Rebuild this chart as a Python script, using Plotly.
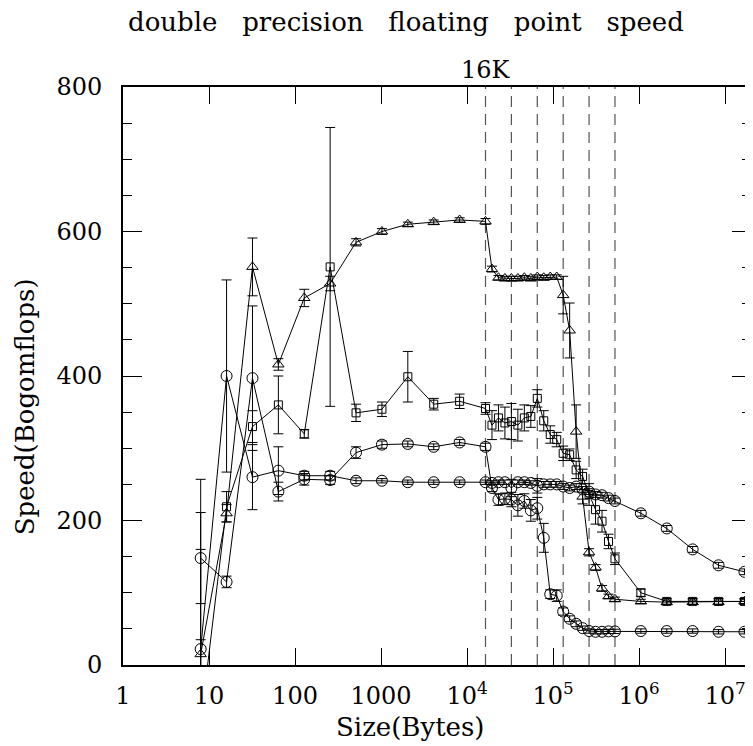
import math
import plotly.graph_objects as go

# ---- data ----
sizes = [8, 16, 32, 64, 128, 256, 512, 1024, 2048, 4096, 8192,
         16384, 19484, 23170, 27554, 32768, 38968, 46341, 55109,
         65536, 77936, 92682, 110218, 131072, 155872, 185364, 220436,
         262144, 311744, 370728, 440872, 524288,
         1048576, 2097152, 4194304, 8388608, 16777216]

tri = [15, 210, 551, 416, 508, 528, 585, 600, 610, 613, 616,
       614, 548, 536, 535, 535, 535, 536, 535, 537, 536, 537, 537,
       512, 463, 323, 233, 156, 135, 106, 95, 91,
       88, 87, 87, 87, 88]
tri_err = [20, 12, 40, 8, 12, 10, 5, 4, 3, 3, 3,
           4, 4, 3, 3, 3, 3, 3, 3, 3, 3, 3, 3,
           26, 38, 37, 10, 5, 4, 4, 3, 3,
           3, 3, 3, 3, 3]

sq = [-80, 219, 330, 360, 320, 551, 349, 354, 399, 361, 365,
      355, 332, 342, 335, 337, 332, 342, 344, 369, 338, 319, 312,
      293, 291, 270, 261, 236, 215, 199, 171, 147,
      100, 88, 88, 88, 88]
sq_err = [240, 21, 22, 40, 6, 193, 12, 10, 35, 8, 10,
          8, 20, 18, 22, 25, 22, 18, 15, 12, 14, 12, 10,
          10, 8, 12, 10, 15, 20, 15, 10, 8,
          5, 4, 4, 4, 4]

circ_a = [148, 115, 397, 240, 257, 256, 294, 305, 306, 302, 308,
          302, 245, 229, 230, 229, 221, 227, 214, 217, 176, 98, 96,
          74, 64, 57, 51, 47, 46, 46, 46.5, 46.5,
          47, 47, 47, 46, 46]
circ_a_err = [63, 8, 100, 13, 8, 6, 8, 5, 4, 4, 4,
              5, 5, 8, 8, 10, 15, 10, 15, 15, 20, 6, 8,
              5, 4, 4, 3, 3, 3, 3, 3, 3,
              3, 3, 3, 3, 3]

circ_b = [22, 400, 260, 269, 262, 262, 255, 255, 253, 253, 253,
          253, 252, 253, 253, 245, 253, 253, 252, 248, 250, 250, 250,
          247, 245, 247, 243, 240, 236, 235, 231, 227,
          210, 189, 160, 138, 129]
circ_b_err = [235, 133, 45, 33, 6, 6, 4, 3, 3, 3, 3,
              3, 3, 3, 3, 12, 3, 3, 3, 10, 4, 4, 4,
              4, 4, 4, 4, 4, 4, 4, 4, 4,
              4, 4, 4, 4, 4]

cache_lines = [16384, 32768, 65536, 131072, 262144, 524288]

tick_vals = [1, 10, 100, 1000, 1e4, 1e5, 1e6, 1e7]
tick_text = ["1", "10", "100", "1000", "10<sup>4</sup>", "10<sup>5</sup>",
             "10<sup>6</sup>", "10<sup>7</sup>"]
y_ticks = [0, 200, 400, 600, 800]

FONT = "DejaVu Serif"

# page body has an 8px margin; compensate so the plot frame lands where the reference has it
OFF = 8
L, T, B = 123 - OFF, 87 - OFF, 746 - (665 - OFF)
PW, PH = 753 - 123, 665 - 87

fig = go.Figure()

for v in cache_lines:
    fig.add_trace(go.Scatter(x=[v, v], y=[0, 800], mode="lines",
                             line=dict(color="#555555", width=1.2, dash="11px,7px"),
                             hoverinfo="skip", showlegend=False))

def add_series(y, err, symbol, size):
    fig.add_trace(go.Scatter(
        x=sizes, y=y, mode="lines+markers",
        line=dict(color="black", width=1),
        marker=dict(symbol=symbol, size=size, color="black",
                    line=dict(color="black", width=1)),
        error_y=dict(type="data", array=err, visible=True, color="black",
                     thickness=1, width=5),
        showlegend=False))

add_series(circ_b, circ_b_err, "circle-open", 11)
add_series(circ_a, circ_a_err, "circle-open", 11)
add_series(sq, sq_err, "square-open", 8)
add_series(tri, tri_err, "triangle-up-open", 10)

fig.update_layout(
    width=753, height=746,
    margin=dict(l=L, r=753 - L - PW, t=T, b=B),
    paper_bgcolor="white", plot_bgcolor="white",
    font=dict(family=FONT, size=24, color="black"),
    showlegend=False,
)

fig.update_xaxes(
    type="log", range=[0, math.log10(2e7)],
    tickvals=tick_vals, ticktext=tick_text,
    ticks="inside", ticklen=17, tickwidth=1, tickcolor="black",
    showline=True, linecolor="black", linewidth=2, mirror="allticks",
    showgrid=False, zeroline=False,
    tickfont=dict(family=FONT, size=24),
    ticklabelstandoff=8,
)
fig.update_yaxes(
    range=[0, 800], tickvals=y_ticks,
    ticks="inside", ticklen=19, tickwidth=1, tickcolor="black",
    minor=dict(dtick=50, ticks="inside", ticklen=9, tickcolor="black", showgrid=False),
    showline=True, linecolor="black", linewidth=2, mirror="allticks",
    showgrid=False, zeroline=False,
    tickfont=dict(family=FONT, size=24),
    ticklabelstandoff=14,
)

def px(xp):
    return (xp - 123) / PW

def py(yp):
    return (665 - yp) / PH

sp = "\u00a0\u00a0\u00a0"
annos = [
    dict(text=sp.join(["double", "precision", "floating", "point", "speed"]),
         xref="paper", yref="paper", x=px(407), y=py(22),
         showarrow=False, font=dict(family=FONT, size=26), xanchor="center", yanchor="middle"),
    dict(text="16K", xref="x", yref="paper", x=math.log10(16384), y=py(70),
         showarrow=False, font=dict(family=FONT, size=24), xanchor="center", yanchor="middle"),
    dict(text="Size(Bytes)", xref="paper", yref="paper", x=px(411),
         y=py(727), showarrow=False, font=dict(family=FONT, size=26),
         xanchor="center", yanchor="middle"),
    dict(text="Speed(Bogomflops)", xref="paper", yref="paper", x=px(25),
         y=py(407), showarrow=False, font=dict(family=FONT, size=26),
         textangle=-90, xanchor="center", yanchor="middle"),
]
fig.update_layout(annotations=annos)

fig.write_html("out.html")
